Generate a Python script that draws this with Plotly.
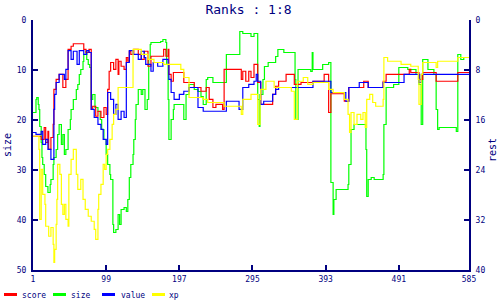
import plotly.graph_objects as go

# ---------------- data ----------------
x_ticks = [1, 99, 197, 295, 393, 491, 585]
size_ticks = [0, 10, 20, 30, 40, 50]
rest_ticks = [0, 8, 16, 24, 32, 40]

score_x = [1, 12, 16, 18, 21, 22, 25, 28, 29, 32, 36, 41, 45, 48, 52, 55, 69, 72, 76, 79,
           81, 85, 88, 92, 96, 99, 101, 103, 105, 109, 112, 115, 116, 119, 123, 126, 128, 130,
           132, 136, 142, 146, 150, 155, 159, 176, 179, 182, 183, 186, 189, 203, 217, 226, 233,
           237, 242, 246, 255, 257, 280, 282, 286, 290, 293, 297, 302, 306, 322, 326, 330, 340,
           351, 360, 376, 391, 397, 400, 418, 424, 444, 450, 470, 474, 503, 505, 507, 518, 523,
           541, 570, 585]
score_y = [18.6, 19.1, 17.2, 19.6, 17.8, 20.7, 18.8, 16.7, 11.1, 9.5, 8.7, 10.8, 9.5, 4.7, 4.2,
           3.8, 4.7, 5.2, 4.7, 14.3, 13.8, 15.4, 14.6, 15.6, 14.0, 15.1, 11.1, 8.2, 6.8, 7.9, 6.3,
           8.7, 6.6, 7.4, 7.9, 6.0, 6.6, 5.0, 5.5, 4.7, 5.5, 6.3, 5.0, 7.4, 5.8, 4.7, 5.8, 4.7, 8.7,
           9.8, 8.4, 10.0, 10.8, 11.4, 10.8, 12.7, 14.0, 13.5, 14.3, 7.9, 9.5, 8.2, 9.8, 8.2, 9.2,
           7.1, 10.0, 13.5, 11.9, 10.6, 9.8, 8.7, 10.3, 10.0, 9.8, 8.7, 14.8, 11.8, 13.0, 10.8,
           9.8, 10.8, 9.8, 8.7, 8.7, 7.9, 8.4, 9.5, 8.4, 9.8, 8.4, 8.4]

size_x = [1, 5, 6, 8, 9, 10, 12, 13, 14, 16, 18, 21, 24, 25, 28, 29, 32, 34, 36, 39, 41, 43,
          45, 48, 51, 52, 55, 59, 61, 63, 65, 68, 69, 72, 73, 75, 77, 79, 81, 84, 88, 91, 93,
          96, 99, 101, 104, 105, 108, 109, 112, 115, 117, 119, 123, 126, 128, 130, 132, 135,
          136, 138, 139, 142, 146, 148, 151, 154, 156, 158, 159, 172, 175, 179, 180, 182, 183,
          186, 189, 190, 202, 203, 206, 210, 217, 222, 226, 229, 233, 235, 242, 257, 260, 277,
          278, 282, 293, 297, 302, 304, 305, 309, 311, 316, 326, 329, 337, 351, 352, 353, 356,
          363, 373, 375, 376, 384, 389, 397, 400, 403, 404, 407, 423, 424, 427, 431, 443, 447,
          448, 450, 454, 458, 470, 471, 474, 484, 491, 503, 514, 518, 521, 523, 530, 538, 541,
          543, 545, 564, 568, 570, 574, 578, 585]
size_y = [18.5, 15.9, 15.5, 16.9, 17.9, 21.3, 24.5, 27.5, 28.9, 30.9, 33.3, 34.5, 32.9, 31.9,
          28.9, 27.5, 25.9, 22.9, 20.9, 24.9, 22.9, 26.9, 25.9, 21.9, 19.9, 17.9, 15.9, 13.9,
          12.9, 10.9, 9.9, 8.3, 6.9, 6.3, 7.9, 8.9, 9.5, 15.9, 14.9, 17.5, 18.3, 19.9, 21.9,
          23.9, 26.9, 28.9, 30.9, 31.9, 40.9, 42.5, 41.9, 38.9, 40.9, 37.9, 37.5, 38.3, 35.9,
          31.5, 28.9, 26.9, 23.9, 19.9, 16.9, 13.9, 14.9, 13.9, 17.9, 15.9, 7.9, 4.9, 4.5, 4.3,
          3.9, 4.5, 8.9, 15.9, 23.9, 19.9, 17.9, 16.9, 16.9, 19.9, 14.9, 12.9, 13.9, 14.3, 15.3,
          16.9, 11.9, 11.5, 12.5, 12.5, 6.9, 6.9, 2.3, 2.7, 3.3, 2.7, 15.9, 21.3, 14.9, 11.9,
          9.3, 8.5, 7.3, 5.9, 6.5, 6.5, 11.9, 19.9, 9.9, 9.9, 10.3, 6.5, 9.9, 9.9, 8.9, 8.5,
          32.5, 38.9, 35.9, 33.9, 32.9, 28.9, 21.9, 20.9, 20.9, 25.9, 35.3, 31.9, 31.5, 31.9,
          30.9, 20.9, 13.5, 12.9, 9.5, 9.9, 10.9, 12.9, 20.9, 7.9, 9.9, 10.9, 17.9, 21.9, 21.5,
          21.5, 22.3, 6.9, 7.9, 7.5, 7.5]

value_x = [1, 5, 12, 14, 18, 21, 25, 29, 30, 32, 36, 43, 45, 48, 52, 55, 60, 63, 69, 73, 76,
           79, 83, 88, 92, 95, 99, 101, 105, 109, 112, 115, 119, 123, 126, 130, 135, 142, 146,
           150, 152, 159, 162, 168, 175, 182, 183, 186, 190, 197, 203, 210, 222, 229, 260, 277,
           282, 290, 297, 300, 302, 306, 310, 322, 326, 330, 376, 400, 420, 424, 438, 450, 470,
           498, 518, 521, 585]
value_y = [18.0, 18.3, 17.8, 19.9, 19.1, 20.7, 22.3, 14.3, 11.9, 10.0, 8.7, 9.5, 7.9, 4.9, 6.3,
           5.0, 7.1, 4.9, 5.5, 4.9, 5.2, 14.3, 15.6, 16.7, 17.5, 19.1, 19.9, 11.6, 12.7, 15.1,
           13.5, 15.9, 14.6, 15.6, 6.8, 4.9, 5.5, 6.3, 5.0, 6.0, 7.1, 8.2, 6.8, 7.4, 6.3, 7.1, 9.5,
           11.6, 12.7, 11.9, 11.4, 10.8, 14.0, 14.6, 13.0, 14.3, 10.8, 10.3, 9.8, 8.7, 9.8, 13.5,
           13.0, 11.9, 11.1, 10.8, 9.8, 11.6, 13.0, 10.8, 10.0, 10.8, 10.0, 8.7, 10.0, 8.7, 8.7]

xp_x = [1, 9, 10, 12, 14, 17, 18, 22, 25, 28, 29, 30, 32, 33, 34, 37, 39, 41, 43, 45, 48, 49,
        52, 55, 59, 61, 65, 68, 71, 75, 79, 83, 85, 88, 89, 92, 95, 97, 99, 101, 104, 107, 109,
        112, 115, 135, 146, 155, 163, 176, 186, 199, 203, 210, 229, 235, 257, 280, 282, 293, 302,
        305, 306, 313, 324, 347, 351, 355, 363, 369, 376, 397, 403, 418, 423, 425, 427, 431,
        435, 440, 443, 446, 448, 452, 456, 460, 470, 471, 476, 494, 507, 517, 518, 521, 523,
        541, 543, 570, 585]
xp_y = [18.6, 20.7, 31.9, 23.9, 27.9, 29.5, 33.0, 34.6, 33.2, 35.9, 38.8, 36.7, 32.7, 28.7,
        23.1, 24.7, 29.5, 31.1, 29.5, 31.9, 33.0, 24.7, 22.3, 20.7, 24.7, 27.1, 25.5, 28.7,
        30.3, 31.4, 32.2, 33.5, 35.1, 30.3, 27.9, 26.3, 23.1, 23.9, 21.5, 20.7, 19.1, 16.7,
        15.1, 14.3, 10.8, 4.7, 5.5, 6.3, 6.8, 7.1, 7.1, 7.9, 9.2, 12.4, 12.7, 13.2, 13.8, 15.1,
        12.7, 11.9, 16.7, 12.7, 11.1, 9.8, 10.8, 11.4, 15.9, 9.8, 9.2, 10.3, 10.0, 11.1, 11.6,
        12.7, 15.1, 18.0, 14.8, 16.7, 15.1, 15.9, 14.8, 17.2, 12.7, 11.9, 13.2, 13.8, 12.7, 6.0,
        6.6, 7.1, 7.4, 9.5, 13.5, 8.7, 6.8, 7.6, 6.6, 6.0, 6.0]

series_names = ["score", "size", "value", "xp"]
series_colors = ["#ff0000", "#00ff00", "#0000ff", "#ffff00"]

# ---------------- styling ----------------
NAVY = "#000080"
MONO = "DejaVu Sans Mono"
W, H = 500, 300
ML, MR, MT, MB = 33, 31, 20, 30

fig = go.Figure()
traces = [(score_x, score_y, "y2"), (size_x, size_y, "y"),
          (value_x, value_y, "y2"), (xp_x, xp_y, "y2")]
for (xs, ys, ax), name, col in zip(traces, series_names, series_colors):
    fig.add_trace(go.Scatter(x=xs, y=ys, yaxis=ax, name=name, mode="lines",
                             line=dict(color=col, width=1.2, shape="hv")))

axis_common = dict(showline=True, linecolor=NAVY, linewidth=2, ticks="inside",
                   ticklen=5, tickcolor=NAVY, tickwidth=1.5, showgrid=False, zeroline=False,
                   tickfont=dict(family=MONO, size=8, color=NAVY))

fig.update_layout(
    width=W, height=H,
    margin=dict(l=ML, r=MR, t=MT, b=MB),
    paper_bgcolor="white", plot_bgcolor="white",
    showlegend=False,
    title=dict(text="Ranks : 1:8", x=0.497, xanchor="center", y=1 - 9 / H,
               yanchor="middle", yref="container",
               font=dict(family=MONO, size=13, color=NAVY)),
    xaxis=dict(range=[1, 585], tickvals=x_ticks, ticktext=[str(v) for v in x_ticks],
               **axis_common),
    yaxis=dict(range=[50, 0], tickvals=size_ticks, ticklabelstandoff=3, **axis_common),
    yaxis2=dict(range=[40, 0], tickvals=rest_ticks, overlaying="y", side="right",
                ticklabelstandoff=3, **axis_common),
)

# ---------------- pixel helpers for text placed in the margins ----------------
pw, ph = W - ML - MR, H - MT - MB


def px_x(p):
    return (p - ML) / pw


def px_y(p):
    return (H - MB - p) / ph


# axis titles
fig.add_annotation(text="size", xref="paper", yref="paper", x=px_x(7), y=px_y(145),
                   textangle=-90, showarrow=False, xanchor="center", yanchor="middle",
                   font=dict(family=MONO, size=10, color=NAVY))
fig.add_annotation(text="rest", xref="paper", yref="paper", x=px_x(492), y=px_y(150),
                   textangle=-90, showarrow=False, xanchor="center", yanchor="middle",
                   font=dict(family=MONO, size=10, color=NAVY))

# legend along the bottom
legend_line_x = [4, 53, 102, 152]
legend_text_x = [20, 69, 119, 167]
for name, col, lx, tx in zip(series_names, series_colors, legend_line_x, legend_text_x):
    fig.add_shape(type="line", xref="paper", yref="paper",
                  x0=px_x(lx), x1=px_x(lx + 13), y0=px_y(294.5), y1=px_y(294.5),
                  line=dict(color=col, width=3))
    fig.add_annotation(text=name, xref="paper", yref="paper", x=px_x(tx), y=px_y(295.5),
                       xanchor="left", yanchor="middle", showarrow=False,
                       font=dict(family=MONO, size=8, color=NAVY))

fig.write_html("out.html")
